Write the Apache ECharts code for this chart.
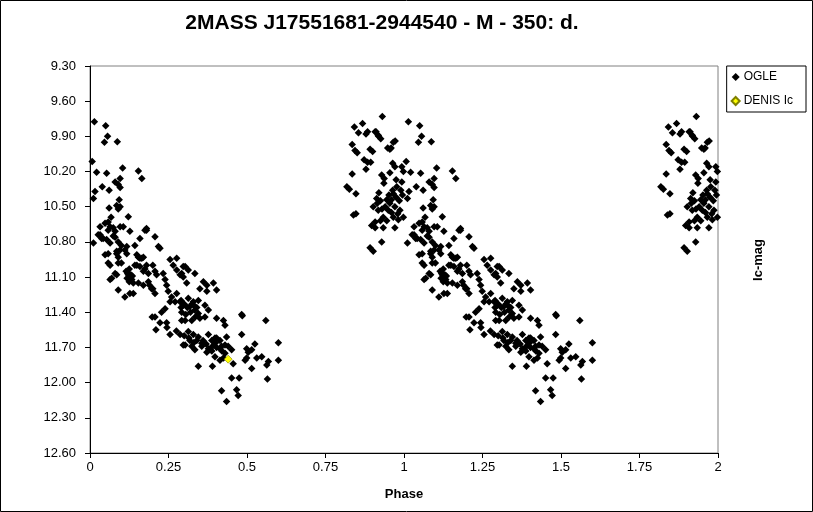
<!DOCTYPE html>
<html>
<head>
<meta charset="utf-8">
<script src="https://cdn.jsdelivr.net/npm/echarts@6/dist/echarts.min.js"></script>
<style>
html,body{margin:0;padding:0;background:#fff;}
#chart{width:813px;height:512px;}
</style>
</head>
<body>
<div id="chart"></div>
<script>
// Chart text
const titleText = '2MASS J17551681-2944540 - M - 350: d.';
const xAxisName = 'Phase';
const yAxisName = 'Ic-mag';
const seriesNames = ['OGLE', 'DENIS Ic'];

// Axis ranges / ticks
const xTicks = [0, 0.25, 0.5, 0.75, 1, 1.25, 1.5, 1.75, 2];
const yTicks = [9.30, 9.60, 9.90, 10.20, 10.50, 10.80, 11.10, 11.40, 11.70, 12.00, 12.30, 12.60];

// The figure shows every observation twice: at phase and at phase + 1.
const ogleBase = [
  [0.931,9.73],[0.842,9.82],[0.868,9.79],[0.855,9.87],[0.879,9.88],[0.908,9.86],[0.918,9.89],[0.926,9.92],
  [0.966,9.95],[0.948,10.00],[0.955,10.01],[0.835,9.97],[0.844,10.02],[0.851,10.04],[0.892,10.01],[0.873,10.10],
  [0.894,10.12],[0.879,10.18],[0.964,10.13],[0.971,10.16],[0.993,10.16],[0.998,10.20],[0.835,10.22],[0.929,10.23],
  [0.955,10.21],[0.936,10.30],[0.975,10.27],[0.993,10.29],[0.818,10.33],[0.826,10.35],[0.847,10.39],[0.964,10.36],
  [0.977,10.33],[0.913,10.43],[0.902,10.50],[0.918,10.53],[0.955,10.47],[0.966,10.39],[0.971,10.50],[0.987,10.53],
  [0.934,10.59],[0.982,10.61],[0.998,10.59],[0.945,10.44],[0.908,10.63],[0.966,10.59],[0.950,10.53],[0.839,10.57],
  [0.897,10.66],[0.908,10.68],[0.934,10.68],[0.971,10.68],[0.929,10.80],[0.892,10.85],[0.902,10.88],
  [0.884,9.86],[0.911,9.86],[0.919,9.90],[0.972,9.94],[0.959,10.00],[0.900,10.03],[0.884,10.12],[0.937,10.26],
  [0.925,10.45],[0.940,10.50],[0.960,10.55],[0.985,10.45],[0.995,10.40],[0.920,10.38],[0.990,10.36],[0.945,10.62],
  [0.930,10.52],[0.960,10.44],[0.847,10.56],[0.915,10.47],[0.975,10.42],[0.952,10.40],[0.980,10.56],[0.925,10.62],
  [0.014,9.775],[0.050,9.81],[0.056,9.90],[0.046,9.95],[0.087,9.945],[0.007,10.115],[0.021,10.205],[0.053,10.215],
  [0.104,10.17],[0.154,10.195],[0.165,10.26],[0.096,10.26],[0.080,10.29],[0.090,10.31],[0.096,10.335],[0.039,10.33],
  [0.061,10.36],[0.016,10.37],[0.011,10.43],[0.093,10.44],[0.085,10.49],[0.096,10.50],[0.090,10.52],[0.061,10.51],
  [0.122,10.585],[0.067,10.59],[0.058,10.63],[0.032,10.67],[0.048,10.64],[0.064,10.67],[0.058,10.70],[0.096,10.67],
  [0.106,10.67],[0.080,10.71],[0.074,10.75],[0.127,10.71],[0.180,10.685],[0.175,10.70],[0.032,10.74],[0.042,10.77],
  [0.159,10.77],[0.207,10.755],[0.011,10.81],[0.053,10.78],[0.064,10.81],[0.090,10.80],[0.100,10.83],[0.117,10.84],
  [0.143,10.83],[0.218,10.84],[0.048,10.91],[0.058,10.98],[0.064,11.00],[0.085,10.90],[0.090,10.93],[0.111,10.87],
  [0.117,10.90],[0.090,10.98],[0.100,10.98],[0.120,11.07],[0.128,11.10],[0.133,11.12],[0.125,11.14],[0.138,11.15],
  [0.130,11.08],[0.080,11.07],[0.085,11.08],[0.064,11.12],[0.149,11.00],[0.159,11.01],[0.154,10.93],[0.165,10.94],
  [0.180,11.00],[0.200,11.00],[0.170,11.05],[0.186,11.07],[0.223,10.855],[0.207,11.05],[0.212,11.08],[0.154,11.15],
  [0.170,11.17],[0.190,11.17],[0.200,11.20],[0.207,11.24],[0.111,11.27],[0.138,11.24],[0.090,11.21],[0.233,11.07],
  [0.239,11.12],[0.244,11.17],[0.255,10.95],[0.265,11.00],[0.276,11.04],[0.287,11.08],[0.297,11.10],[0.249,11.22],
  [0.260,11.27],[0.255,11.31],[0.271,11.31],[0.287,11.31],[0.297,11.34],[0.239,11.37],[0.228,11.40],[0.207,11.44],
  [0.244,11.49],[0.292,11.47],[0.255,11.59],[0.287,11.59],
  [0.026,10.74],[0.037,10.77],[0.074,10.68],[0.080,10.76],[0.096,10.87],[0.085,10.88],[0.058,10.90],[0.180,10.70],
  [0.149,10.91],[0.159,10.94],[0.170,10.93],[0.143,11.00],[0.175,11.03],[0.069,11.11],[0.127,11.24],[0.186,11.14],
  [0.196,11.20],[0.115,11.05],[0.122,11.08],[0.118,11.11],[0.125,11.03],[0.135,11.09],
  [0.276,10.94],[0.303,11.01],[0.313,11.04],[0.292,11.07],[0.334,11.07],[0.308,11.15],[0.361,11.14],[0.372,11.17],
  [0.393,11.15],[0.350,11.20],[0.372,11.22],[0.403,11.21],[0.276,11.24],[0.297,11.01],
  [0.313,11.28],[0.329,11.31],[0.318,11.35],[0.334,11.38],[0.345,11.41],[0.292,11.40],[0.303,11.47],[0.324,11.47],
  [0.350,11.45],[0.366,11.44],[0.377,11.38],[0.366,11.34],[0.345,11.30],[0.403,11.45],[0.430,11.51],[0.483,11.42],
  [0.290,11.30],[0.300,11.33],[0.310,11.36],[0.320,11.40],[0.330,11.34],[0.335,11.44],[0.290,11.36],[0.305,11.42],
  [0.325,11.33],[0.340,11.36],
  [0.313,11.565],[0.329,11.59],[0.318,11.64],[0.340,11.64],[0.303,11.68],[0.324,11.69],[0.334,11.72],[0.356,11.69],
  [0.377,11.59],[0.388,11.64],[0.398,11.62],[0.414,11.64],[0.435,11.61],[0.419,11.69],[0.440,11.69],[0.451,11.72],
  [0.377,11.71],[0.388,11.73],[0.398,11.78],[0.430,11.75],[0.483,11.59],[0.499,11.71],[0.515,11.72],
  [0.300,11.60],[0.315,11.62],[0.330,11.66],[0.345,11.61],[0.360,11.64],[0.370,11.67],[0.390,11.69],[0.400,11.66],
  [0.420,11.73],
  [0.485,11.43],[0.560,11.47],[0.525,11.67],[0.504,11.74],[0.600,11.66],[0.499,11.79],[0.494,11.81],[0.531,11.79],
  [0.547,11.78],[0.568,11.82],[0.563,11.85],[0.600,11.81],[0.515,11.88],[0.345,11.86],[0.390,11.86],[0.414,11.81],
  [0.425,11.79],[0.456,11.84],[0.451,11.96],[0.475,11.96],[0.565,11.97],[0.419,12.07],[0.467,12.06],[0.472,12.11],
  [0.435,12.16],[0.297,11.68],[0.356,11.665],[0.403,11.62],[0.430,11.68],[0.382,11.72],[0.372,11.74],[0.414,11.71],
  [0.403,11.70],[0.425,11.47],
  [0.198,11.44],[0.223,11.49],[0.210,11.55],[0.245,11.53],[0.275,11.56]
];

// DENIS Ic observation: [phase, Ic magnitude]
const denisPoints = [[0.44,11.80]];

// Phase-folded display: each OGLE point at phase and at phase + 1
const oglePoints = ogleBase.concat(ogleBase.map(p => [p[0] + 1, p[1]]));

const chart = echarts.init(document.getElementById('chart'), null, {renderer: 'canvas'});
const FONT = 'Arial, "Liberation Sans", sans-serif';

chart.setOption({
  animation: false,
  backgroundColor: '#ffffff',
  grid: {
    left: 90, right: 95, top: 66, bottom: 59,
    show: true, borderColor: '#808080', borderWidth: 1, backgroundColor: '#ffffff'
  },
  graphic: [
    {type: 'rect', shape: {x: 0.5, y: 0.5, width: 812, height: 511},
     style: {fill: 'none', stroke: '#000', lineWidth: 1}, silent: true, z: -1},
    {type: 'text', x: 382, y: 23,
     style: {text: titleText, font: 'bold 21px ' + FONT, fill: '#000',
             textAlign: 'center', textVerticalAlign: 'middle'}},
    {type: 'text', x: 404, y: 494,
     style: {text: xAxisName, font: 'bold 13px ' + FONT, fill: '#000',
             textAlign: 'center', textVerticalAlign: 'middle'}},
    {type: 'text', x: 758, y: 260, rotation: Math.PI / 2,
     style: {text: yAxisName, font: 'bold 13px ' + FONT, fill: '#000',
             textAlign: 'center', textVerticalAlign: 'middle'}}
  ],
  legend: {
    orient: 'vertical',
    right: 7, top: 66,
    padding: [5, 13, 5, 4],
    itemGap: 12,
    itemWidth: 8, itemHeight: 8,
    borderColor: '#000', borderWidth: 1,
    backgroundColor: '#fff',
    textStyle: {fontFamily: FONT, fontSize: 12, color: '#000', padding: [0, 0, 0, -1]},
    data: [
      {name: seriesNames[0], icon: 'diamond'},
      {name: seriesNames[1], icon: 'diamond'}
    ]
  },
  xAxis: {
    type: 'value', min: xTicks[0], max: xTicks[xTicks.length - 1], interval: 0.25,
    axisLine: {show: true, onZero: false, lineStyle: {color: '#000', width: 1}},
    axisTick: {show: true, length: 5, lineStyle: {color: '#000'}},
    axisLabel: {color: '#000', fontFamily: FONT, fontSize: 13, margin: 8,
                formatter: v => String(+v.toFixed(2))},
    splitLine: {show: false}
  },
  yAxis: {
    type: 'value', inverse: true, min: yTicks[0], max: yTicks[yTicks.length - 1], interval: 0.3,
    axisLine: {show: true, onZero: false, lineStyle: {color: '#000', width: 1}},
    axisTick: {show: true, length: 5, lineStyle: {color: '#000'}},
    axisLabel: {color: '#000', fontFamily: FONT, fontSize: 13, margin: 14,
                formatter: v => v.toFixed(2)},
    splitLine: {show: false}
  },
  series: [
    {
      name: seriesNames[0], type: 'scatter', data: oglePoints,
      symbol: 'diamond', symbolSize: 7.5, clip: false,
      itemStyle: {color: '#000000', opacity: 1}
    },
    {
      name: seriesNames[1], type: 'scatter', data: denisPoints,
      symbol: 'diamond', symbolSize: 8, clip: false, z: 3,
      itemStyle: {color: '#ffff00', borderColor: '#808000', borderWidth: 0.6, opacity: 1}
    }
  ]
});
</script>
</body>
</html>
